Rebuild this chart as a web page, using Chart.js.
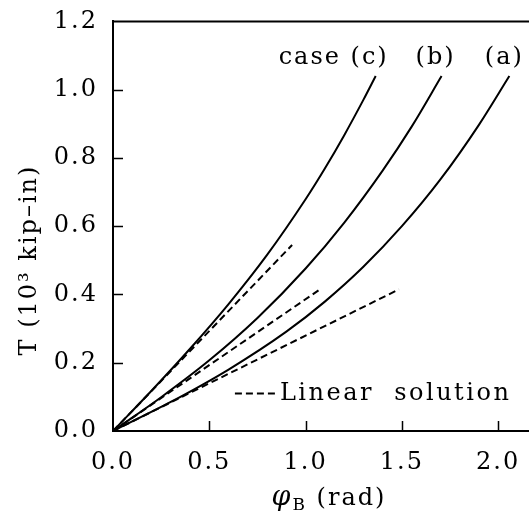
<!DOCTYPE html>
<html>
<head>
<meta charset="utf-8">
<script src="https://cdn.jsdelivr.net/npm/chart.js@4/dist/chart.umd.min.js"></script>
<style>
html,body{margin:0;padding:0;background:#fff;overflow:hidden;}
#wrap{width:529px;height:515px;position:relative;}
</style>
</head>
<body>
<div id="wrap"><canvas id="c" width="529" height="515"></canvas></div>
<script>
// ---- data ----
const caseC_phi = [0, 0.2, 0.4, 0.6, 0.8, 1.0, 1.1, 1.2, 1.3, 1.364];
const caseC_T   = [0, 0.118, 0.241, 0.372, 0.516, 0.679, 0.769, 0.866, 0.970, 1.04];
const caseB_phi = [0, 0.25, 0.5, 0.75, 1.0, 1.2, 1.4, 1.55, 1.706];
const caseB_T   = [0, 0.099, 0.207, 0.331, 0.476, 0.610, 0.763, 0.891, 1.04];
const caseA_phi = [0, 0.3, 0.6, 0.9, 1.1, 1.3, 1.5, 1.7, 1.9, 2.058];
const caseA_T   = [0, 0.085, 0.180, 0.291, 0.379, 0.481, 0.600, 0.737, 0.897, 1.04];
const linC_phi = [0, 0.93];   const linC_T = [0, 0.545];
const linB_phi = [0, 1.08];   const linB_T = [0, 0.417];
const linA_phi = [0, 1.485];  const linA_T = [0, 0.415];
const curveLabels = ["case (c)", "(b)", "(a)"];
const legendLabel = "Linear  solution";
const xTicks = [0, 0.5, 1.0, 1.5, 2.0];
const yTicks = [0, 0.2, 0.4, 0.6, 0.8, 1.0, 1.2];
const xTitleMain = "\u03C6", xTitleSub = "B", xTitleRest = " (rad)";
const yTitle = "T (10\u00B3 kip\u2013in)";

const pts = (xs, ys) => xs.map((x, i) => ({x: x, y: ys[i]}));
const FONT = "'DejaVu Serif', 'Liberation Serif', serif";

const solid = (xs, ys) => ({data: pts(xs, ys), showLine: true, borderColor: '#000', borderWidth: 2,
  pointRadius: 0, cubicInterpolationMode: 'monotone', fill: false});
const dashed = (xs, ys) => ({data: pts(xs, ys), showLine: true, borderColor: '#000', borderWidth: 2,
  borderDash: [7, 4], pointRadius: 0, fill: false});

const decor = {
  id: 'decor',
  beforeDraw(chart) { chart.ctx.letterSpacing = '2px'; },
  afterDraw(chart) {
    const ctx = chart.ctx, a = chart.chartArea, xs = chart.scales.x, ys = chart.scales.y;
    ctx.save();
    ctx.strokeStyle = '#000'; ctx.lineWidth = 1.5;
    // inward ticks
    ctx.beginPath();
    xTicks.forEach(v => { if (v > 0) { const p = Math.round(xs.getPixelForValue(v)) + 0.5; ctx.moveTo(p, a.bottom); ctx.lineTo(p, a.bottom - 10); } });
    yTicks.forEach(v => { if (v > 0 && v < 1.2) { const p = Math.round(ys.getPixelForValue(v)) + 0.5; ctx.moveTo(a.left, p); ctx.lineTo(a.left + 10, p); } });
    ctx.stroke();
    // top frame
    ctx.lineWidth = 2;
    ctx.beginPath(); ctx.moveTo(a.left, a.top); ctx.lineTo(a.right, a.top); ctx.stroke();
    ctx.fillStyle = '#000';
    ctx.font = '24px ' + FONT;
    ctx.letterSpacing = '2px';
    ctx.textBaseline = 'alphabetic';
    // curve labels
    const ends = [caseC_phi[caseC_phi.length-1], caseB_phi[caseB_phi.length-1], caseA_phi[caseA_phi.length-1]];
    const top = ys.getPixelForValue(1.04);
    ctx.textAlign = 'right';
    ctx.fillText(curveLabels[0], xs.getPixelForValue(ends[0]) + 13, top - 12);
    ctx.textAlign = 'center';
    ctx.fillText(curveLabels[1], xs.getPixelForValue(ends[1]) - 6, top - 12);
    ctx.fillText(curveLabels[2], xs.getPixelForValue(ends[2]) - 5, top - 12);
    // legend
    const lx = xs.getPixelForValue(0.633), ly = ys.getPixelForValue(0.11);
    ctx.lineWidth = 2; ctx.setLineDash([7, 4]);
    ctx.beginPath(); ctx.moveTo(lx, ly); ctx.lineTo(lx + 42, ly); ctx.stroke();
    ctx.setLineDash([]);
    ctx.textAlign = 'left'; ctx.textBaseline = 'middle';
    ctx.letterSpacing = '2.5px';
    ctx.fillText(legendLabel, lx + 45, ly);
    ctx.letterSpacing = '2px';
    // y title (rotated)
    ctx.save();
    ctx.translate(30, 260);
    ctx.rotate(-Math.PI / 2);
    ctx.textAlign = 'center'; ctx.textBaseline = 'middle';
    ctx.fillText(yTitle, 0, 0);
    ctx.restore();
    // x title with subscript
    ctx.textBaseline = 'alphabetic';
    const fMain = 'italic 27px ' + FONT, fSub = '17px ' + FONT, fRest = '24px ' + FONT;
    ctx.font = fMain; const w1 = ctx.measureText(xTitleMain).width;
    ctx.font = fSub; const w2 = ctx.measureText(xTitleSub).width;
    ctx.font = fRest; const w3 = ctx.measureText(xTitleRest).width;
    let x0 = 329 - (w1 + w2 + w3) / 2; const base = 505;
    ctx.textAlign = 'left';
    ctx.font = fMain; ctx.fillText(xTitleMain, x0, base); x0 += w1;
    ctx.font = fSub; ctx.fillText(xTitleSub, x0, base + 5); x0 += w2;
    ctx.font = fRest; ctx.fillText(xTitleRest, x0, base);
    ctx.restore();
  }
};

new Chart(document.getElementById('c'), {
  type: 'scatter',
  data: { datasets: [
    solid(caseC_phi, caseC_T), solid(caseB_phi, caseB_T), solid(caseA_phi, caseA_T),
    dashed(linC_phi, linC_T), dashed(linB_phi, linB_T), dashed(linA_phi, linA_T)
  ]},
  options: {
    responsive: false, animation: false, devicePixelRatio: 1,
    layout: { padding: { top: 18, left: 0, right: 0, bottom: 0 } },
    plugins: { legend: { display: false }, tooltip: { enabled: false } },
    scales: {
      x: {
        type: 'linear', min: 0, max: 2.16,
        grid: { display: false },
        border: { display: true, color: '#000', width: 2 },
        afterBuildTicks: s => { s.ticks = xTicks.map(v => ({value: v})); },
        afterFit: s => { s.height = 84; },
        ticks: { color: '#000', padding: 9, maxRotation: 0, autoSkip: false,
          font: { family: FONT, size: 24 }, callback: v => Number(v).toFixed(1) }
      },
      y: {
        type: 'linear', min: 0, max: 1.2,
        grid: { display: false },
        border: { display: true, color: '#000', width: 2 },
        afterBuildTicks: s => { s.ticks = yTicks.map(v => ({value: v})); },
        afterFit: s => { s.width = 113; },
        ticks: { color: '#000', padding: 7, autoSkip: false,
          font: { family: FONT, size: 24 }, callback: v => Number(v).toFixed(1) }
      }
    }
  },
  plugins: [decor]
});
</script>
</body>
</html>
